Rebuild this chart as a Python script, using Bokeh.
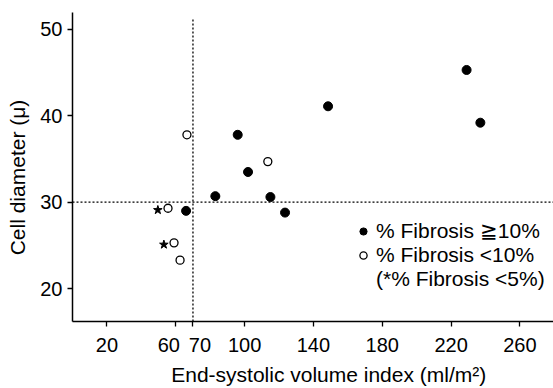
from bokeh.plotting import figure
from bokeh.models import FixedTicker, Range1d, Span, Legend, LegendItem
from bokeh.embed import file_html
from bokeh.resources import INLINE

# ---- data ----
filled_x = [66, 83, 115, 123.5, 96, 102, 148.5, 229, 237]
filled_y = [29.0, 30.7, 30.6, 28.8, 37.8, 33.5, 41.1, 45.3, 39.2]
open_x = [66.5, 113.5, 55.5, 59, 62.5]
open_y = [37.8, 34.7, 29.3, 25.3, 23.3]
star_x = [49.6, 53.1]
star_y = [29.1, 25.1]
x_ticks = [20, 60, 70, 100, 140, 180, 220, 260]
y_ticks = [20, 30, 40, 50]
x_cut = 70
y_cut = 30
legend_labels = ["% Fibrosis \u226710%", "% Fibrosis <10%", "(*% Fibrosis <5%)"]

FONT = "Liberation Sans"
Y0, Y1 = 16.2, 51.95
SP = "\u2002"   # en space, used only to nudge centred texts
TH = "\u2009"   # thin space

p = figure(width=553, height=388, output_backend="svg", toolbar_location=None,
           x_range=Range1d(0, 279.5), y_range=Range1d(Y0, Y1),
           min_border_left=72, min_border_right=0, min_border_top=12, min_border_bottom=65)
p.outline_line_color = None
p.grid.visible = False
p.background_fill_color = "white"

# threshold lines
p.add_layout(Span(location=y_cut, dimension="width", line_color="black",
                  line_width=1.3, line_dash="2 2"))
p.segment(x0=[x_cut], y0=[Y0], x1=[x_cut], y1=[51.15], line_color="black",
          line_width=1.3, line_dash="2 2")

r_filled = p.scatter(filled_x, filled_y, size=9, marker="circle",
                     fill_color="black", line_color="black")
r_open = p.scatter(open_x, open_y, size=8, marker="circle",
                   fill_color="white", line_color="black", line_width=1.3)
p.scatter(star_x, star_y, size=9, marker="star", fill_color="black", line_color="black")
r_dummy = p.scatter([], [], size=8, marker="circle", fill_alpha=0, line_alpha=0)

for ax in (p.xaxis, p.yaxis):
    ax.axis_line_color = "black"
    ax.axis_line_width = 1.5
    ax.major_tick_line_color = "black"
    ax.major_tick_line_width = 1.3
    ax.major_tick_out = 5
    ax.major_tick_in = 0
    ax.minor_tick_line_color = None
    ax.major_label_text_font = FONT
    ax.major_label_text_font_size = "20px"
    ax.major_label_text_color = "black"
    ax.axis_label_text_font = FONT
    ax.axis_label_text_font_size = "21px"
    ax.axis_label_text_font_style = "normal"
    ax.axis_label_text_color = "black"

p.xaxis.ticker = FixedTicker(ticks=x_ticks)
p.yaxis.ticker = FixedTicker(ticks=y_ticks)
# keep the close 60 / 70 labels apart, as in the original
p.xaxis.major_label_overrides = {60: "60" + SP + TH, 70: TH + SP + "70"}
p.xaxis.axis_label = SP * 3 + "End-systolic volume index (ml/m\u00b2)"
p.yaxis.axis_label = "Cell diameter (\u03bc)" + SP * 2
p.xaxis.major_label_standoff = 7
p.xaxis.axis_label_standoff = 4
p.yaxis.major_label_standoff = 5
p.yaxis.axis_label_standoff = 8

legend = Legend(items=[LegendItem(label=legend_labels[0], renderers=[r_filled]),
                       LegendItem(label=legend_labels[1], renderers=[r_open]),
                       LegendItem(label=legend_labels[2], renderers=[r_dummy])],
                location=(282, 30), padding=0, margin=0, spacing=0,
                glyph_width=18, glyph_height=20, label_height=20, label_standoff=4,
                label_text_font=FONT, label_text_font_size="21px",
                label_text_color="black", border_line_color=None,
                background_fill_alpha=0)
p.add_layout(legend, "center")

open("out.html", "w").write(file_html(p, INLINE))
